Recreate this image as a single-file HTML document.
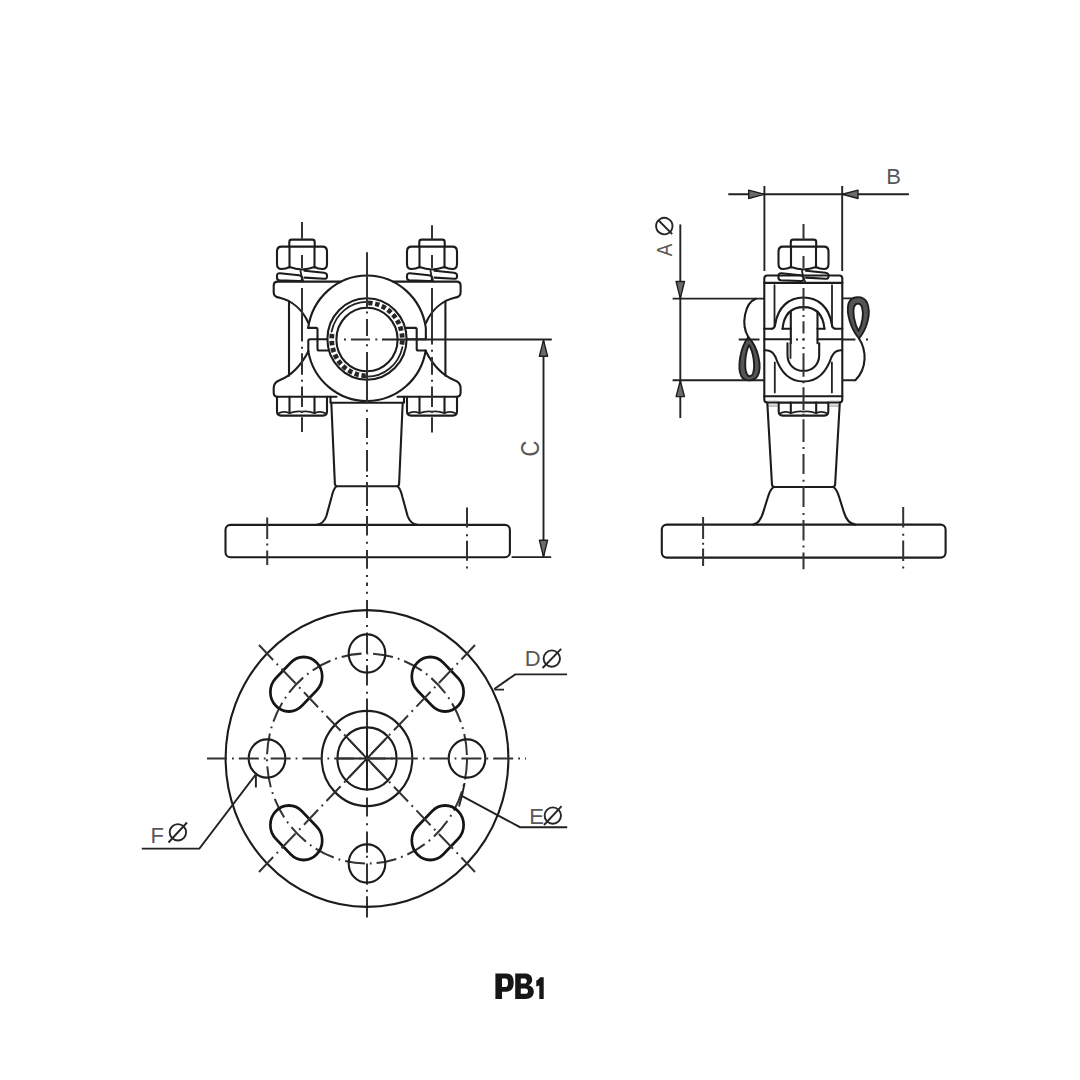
<!DOCTYPE html>
<html><head><meta charset="utf-8"><style>
html,body{margin:0;padding:0;background:#fff;width:1080px;height:1080px;overflow:hidden}
svg{display:block}

.s{fill:none;stroke:#1c1c1c;stroke-width:2.1;stroke-linejoin:round;stroke-linecap:round}
.s2{fill:none;stroke:#222;stroke-width:1.8;stroke-linecap:round}
.sb{fill:none;stroke:#151515;stroke-width:2.7}
.cl{fill:none;stroke:#333;stroke-width:2;stroke-linecap:butt}
.c{fill:none;stroke:#333;stroke-width:2;stroke-dasharray:20 5 1.8 5}
.lobe{fill:#555;fill-rule:evenodd;stroke:#1e1e1e;stroke-width:1.9;stroke-linejoin:round}
.h{fill:none;stroke:#222;stroke-width:4.2;stroke-dasharray:3.2 2.6}
.d{fill:none;stroke:#222;stroke-width:1.9}
.ar{fill:#6a6a6a;stroke:#1e1e1e;stroke-width:1.4;stroke-linejoin:round}
.dia{fill:none;stroke:#262626;stroke-width:1.9}
.t{font-family:"Liberation Sans",sans-serif;fill:#585858}
.pb{font-family:"Liberation Sans",sans-serif;font-weight:bold;fill:#161616;stroke:#161616;stroke-width:0.9}
</style></head><body>
<div id="wrap"><svg width="1080" height="1080" viewBox="0 0 1080 1080">
<path class="s" d="M289.3 246.6 V242 Q289.3 239.6 291.8 239.6 H312.2 Q314.7 239.6 314.7 242 V246.6"/>
<path class="s" d="M289.5 246.6 H281.5 Q277 246.6 277 251.5 V264 Q277 269 281.5 269 Q286 269 289.5 267 Q296 269.3 302 269.5 Q308 269.3 314.5 267 Q318 269 322.5 269 Q327 269 327 264 V251.5 Q327 246.6 322.5 246.6 Z"/>
<path class="s" d="M289.5 246.8 V267.5 M314.5 246.8 V267.5"/>
<path class="s" d="M280 273.2 L299 275.2 Q302 275.6 302 278 V279 Q302 281.2 299 281 L279.5 280.2 Q277 280 277 277.8 V275.8 Q277 273 280 273.2 Z"/>
<path class="s" d="M304.5 270.8 L324 272.8 Q327 273.2 327 275.6 V276.8 Q327 279 324 278.8 L304.5 277.6"/>
<path class="s2" d="M300.5 270.8 Q301 276 303.5 281.5"/>
<path class="s" d="M419.3 246.6 V242 Q419.3 239.6 421.8 239.6 H442.2 Q444.7 239.6 444.7 242 V246.6"/>
<path class="s" d="M419.5 246.6 H411.5 Q407 246.6 407 251.5 V264 Q407 269 411.5 269 Q416 269 419.5 267 Q426 269.3 432 269.5 Q438 269.3 444.5 267 Q448 269 452.5 269 Q457 269 457 264 V251.5 Q457 246.6 452.5 246.6 Z"/>
<path class="s" d="M419.5 246.8 V267.5 M444.5 246.8 V267.5"/>
<path class="s" d="M410 273.2 L429 275.2 Q432 275.6 432 278 V279 Q432 281.2 429 281 L409.5 280.2 Q407 280 407 277.8 V275.8 Q407 273 410 273.2 Z"/>
<path class="s" d="M434.5 270.8 L454 272.8 Q457 273.2 457 275.6 V276.8 Q457 279 454 278.8 L434.5 277.6"/>
<path class="s2" d="M430.5 270.8 Q431 276 433.5 281.5"/>
<path class="s" d="M277 396.7 V411.6 Q277 415.6 281 415.6 H323 Q327 415.6 327 411.6 V396.7"/>
<path class="s" d="M289.5 396.7 V413.1 M314.5 396.7 V413.1"/>
<path class="s2" d="M278 413.6 Q283 410.6 289.5 413.1 Q296 410.6 302 411.6 Q308 410.6 314.5 413.1 Q321 410.6 326 413.6"/>
<path class="s" d="M407 396.7 V411.6 Q407 415.6 411 415.6 H453 Q457 415.6 457 411.6 V396.7"/>
<path class="s" d="M419.5 396.7 V413.1 M444.5 396.7 V413.1"/>
<path class="s2" d="M408 413.6 Q413 410.6 419.5 413.1 Q426 410.6 432 411.6 Q438 410.6 444.5 413.1 Q451 410.6 456 413.6"/>
<path class="s" d="M341 281.6 H277.7 Q273.7 281.6 273.7 285.6 V292.4 Q273.7 296.6 279 297.6 C291.5 300.5 302.5 309.5 308.4 323"/>
<path class="s" d="M393 281.6 H456.6 Q460.6 281.6 460.6 285.6 V292.4 Q460.6 296.6 455.3 297.6 C442.8 300.5 431.8 309.5 425.9 323"/>
<path class="s" d="M308.15 327.9 A59.5 61.5 0 0 1 425.85 327.9 V339.2"/>
<path class="s" d="M308.15 327.9 H316 Q317.5 327.9 317.5 329.5 V349 Q317.5 350.5 319 350.5 H328.8"/>
<path class="s" d="M405.8 327.9 H415.2 Q416.7 327.9 416.7 329.5 V349 Q416.7 350.5 418.2 350.5 H425.6"/>
<path class="s" d="M327.3 339.2 H310 Q308.3 339.2 308.3 341 V351.4 M406.7 339.2 H425.85"/>
<path class="s" d="M308.32 351.4 A59.5 60 0 0 0 425.68 350.5"/>
<path class="s" d="M308.3 351.4 C302 363.5 292 375 280 380 Q273.7 382.2 273.7 388 V392.7 Q273.7 396.7 277.7 396.7 H336.5"/>
<path class="s" d="M425.7 351 C432 363.5 442 375 454 380 Q460.6 382.2 460.6 388 V392.7 Q460.6 396.7 456.6 396.7 H397.5"/>
<path class="s" d="M289 301.5 V375.8 M445.4 301.5 V375.8"/>
<ellipse class="s" cx="367" cy="339" rx="39.6" ry="40.8"/>
<ellipse class="s" cx="367" cy="339.5" rx="30.6" ry="31.8"/>
<path fill="none" stroke="#262626" stroke-width="4.8" stroke-dasharray="4.4 2.6" d="M368.23 302.82 A35.3 36.5 0 0 1 401.53 346.89 M365.77 375.78 A35.3 36.5 0 0 1 332.47 331.71"/>
<path class="s2" d="M331.59 331.52 A36.2 37.4 0 0 1 368.26 301.92 M402.41 347.08 A36.2 37.4 0 0 1 365.74 376.68"/>
<path class="s" d="M330.5 396.8 V402.8 H404 V396.8"/>
<path class="s" d="M331.3 402.8 L334.9 484.2 Q335.4 486.2 337.5 486.2 H396.5 Q398.6 486.2 399.1 484.2 L402.7 402.8"/>
<path class="s" d="M336 486.8 Q333.5 489 331.6 497 L326.4 516 Q323.5 524.5 315.6 525"/>
<path class="s" d="M398 486.8 Q400.5 489 402.4 497 L407.6 516 Q410.5 524.5 418.4 525"/>
<rect class="s" x="225.5" y="524.9" width="284.4" height="32.3" rx="5"/>
<path class="cl" d="M367 252.3 V307.7 M367 318.9 V336.1 M367 351.9 V403.4 M367 417.9 V438.1 M367 449.9 V471.4 M367 481.9 V506.1 M367 515.9 V535.4 M367 549.9 V568.7 M367 582.6 V586.1 M367 599.9 V618.1 M367 632.6 V653.4 M367 665.3 V685.4 M367 698.6 V790.2 M367 797.6 V816.6 M367 831.6 V852.7 M367 863.6 V884.7 M367 896.3 V917.4 M367 311.5 V313.5 M367 344.3 V346.3 M367 409.7 V411.7 M367 442.3 V444.3 M367 475.0 V477.0 M367 509.0 V511.0 M367 541.7 V543.7 M367 575.0 V577.0 M367 591.7 V593.7 M367 625.0 V627.0 M367 659.0 V661.0 M367 691.7 V693.7 M367 823.2 V825.2 M367 855.8 V857.8 M367 889.8 V891.8"/>
<path class="cl" d="M302 221.9 V238.7 M302 255.1 V267.9 M302 287.9 V341.6 M302 353.3 V374.7 M302 386.6 V406.9 M302 417.3 V432.1 M302 346.8 V348.8 M302 379.7 V381.7 M302 411.0 V413.0"/>
<path class="cl" d="M432 225.3 V239.4 M432 255.1 V267.9 M432 287.9 V344.4 M432 357.1 V374.7 M432 386.6 V406.9 M432 417.3 V432.4 M432 349.8 V351.8 M432 379.7 V381.7 M432 411.0 V413.0"/>
<path class="cl" d="M350.9 339.5 H370.0 M344.0 339.5 H346.0 M375.3 339.5 H377.3"/>
<path class="cl" d="M267.2 517.6 V539.1 M267.2 550.6 V565.1 M267.2 543.6 V545.6"/>
<path class="cl" d="M467 507.6 V527.6 M467 540.7 V560.7 M467 534.2 V536.2 M467 566.6 V568.6"/>
<path class="d" d="M382 339.5 H551.8 M511.6 557.1 H551.2 M543.5 341 V556"/>
<path class="ar" d="M543.5 340.2 L539.4 356.2 H547.6 Z M543.5 556.8 L539.4 540.2 H547.6 Z"/>
<text class="t" transform="translate(538.9 448.6) rotate(-90) scale(1 1.13)" text-anchor="middle" font-size="22">C</text>
<path class="s" d="M790.8 246.6 V242 Q790.8 239.6 793.3 239.6 H813.7 Q816.2 239.6 816.2 242 V246.6"/>
<path class="s" d="M791.0 246.6 H783.0 Q778.5 246.6 778.5 251.5 V264 Q778.5 269 783.0 269 Q787.5 269 791.0 267 Q797.5 269.3 803.5 269.5 Q809.5 269.3 816.0 267 Q819.5 269 824.0 269 Q828.5 269 828.5 264 V251.5 Q828.5 246.6 824.0 246.6 Z"/>
<path class="s" d="M791.0 246.8 V267.5 M816.0 246.8 V267.5"/>
<path class="s" d="M781.5 273.2 L800.5 275.2 Q803.5 275.6 803.5 278 V279 Q803.5 281.2 800.5 281 L781.0 280.2 Q778.5 280 778.5 277.8 V275.8 Q778.5 273 781.5 273.2 Z"/>
<path class="s" d="M806.0 270.8 L825.5 272.8 Q828.5 273.2 828.5 275.6 V276.8 Q828.5 279 825.5 278.8 L806.0 277.6"/>
<path class="s2" d="M802.0 270.8 Q802.5 276 805.0 281.5"/>
<path class="s" d="M764.3 282.9 V278.5 Q764.3 275.5 767.3 275.5 H839.3 Q842.3 275.5 842.3 278.5 V282.9 Z"/>
<path class="s" d="M764.3 282.9 V396.2 M842.3 282.9 V396.2"/>
<path class="s" d="M764.3 396.2 V399.6 Q764.3 402.6 767.3 402.6 H839.3 Q842.3 402.6 842.3 399.6 V396.2 Z"/>
<path class="s2" d="M774.5 285.2 V326.5 M832 285.2 V326.5 M774.8 362.5 V392.4 M831.9 362.5 V392.4"/>
<path class="s" d="M764.3 328.8 H771.5 M835.5 328.8 H842.3 M782.5 328.8 H790.8 M817.5 328.8 H824.5 M764.3 339.3 H790.8 M817.5 339.3 H842.3"/>
<path class="s" d="M771.5 328.8 Q774.5 328.8 775.3 324 C778 307 789 297.5 803.5 297.5 C818 297.5 829 307 831.7 324 Q832.5 328.8 835.5 328.8"/>
<path class="s" d="M782.5 328.8 C784 314 792 307.1 803.5 307.1 C815 307.1 823 314 824.5 328.8"/>
<path class="s" d="M790.8 311.5 V343.3 M817.5 311.5 V343.3"/>
<path class="s" d="M787.5 343.3 V355 C787.5 365 795 370.8 803.5 370.8 C812 370.8 819.2 365 819.2 355 V343.3"/>
<path class="s2" d="M790.5 343.3 V358"/>
<path class="s" d="M764.6 350.3 Q772 349.5 775.5 357 C780.5 372 790 381.5 803.5 381.5 C817 381.5 826.5 372 831.5 357 Q835 349.5 842 350.3"/>
<path fill="none" stroke="#8a8a8a" stroke-width="1.1" d="M767.5 401.2 H777.5 M767.8 403.6 H777.5 M768 406 H777.5 M829.5 401.2 H839.5 M829.5 403.6 H839.3 M829.5 406 H839"/>
<path class="s" d="M778.7 402.6 V411.6 Q778.7 415.6 782.7 415.6 H824.3 Q828.3 415.6 828.3 411.6 V402.6"/>
<path class="s" d="M790.8 402.6 V413.1 M816.2 402.6 V413.1"/>
<path class="s2" d="M779.7 413.6 Q784.7 410.6 790.8 413.1 Q797.5 410.6 803.5 411.6 Q809.5 410.6 816.2 413.1 Q822.3 410.6 827.3 413.6"/>
<path class="s" d="M767.3 402.6 L772 484.8 Q772.4 487 774.5 487 H832.6 Q834.7 487 835.1 484.8 L839.8 402.6"/>
<path class="s" d="M773 487.5 Q770 490 767.8 497.5 L763.4 511.6 Q760 523.5 753.3 524.6"/>
<path class="s" d="M834.1 487.5 Q837.1 490 839.3 497.5 L843.7 511.6 Q847.1 523.5 855.2 524.6"/>
<rect class="s" x="661.8" y="524.6" width="283.8" height="33" rx="5"/>
<path class="d" d="M672.6 298.6 H764.3 M672.6 380.3 H764.3 M842.3 298.4 H856.4 M842.3 380.2 H855"/>
<path class="s" d="M755.8 298.8 C745 303 740.5 324 748.3 337"/>
<path class="lobe" d="M748.3 337 C740 348 737 368 741.5 376.5 C745 382 754 381.5 757.5 376 C762.5 367 758 347 748.3 337 Z M749 345 C745 353 744 368 746.8 374 C748.5 377 751.5 377 753 373.5 C755.5 366 753.5 352 749 345 Z"/>
<path class="lobe" d="M859 338.5 C851 329 846 313.5 848.5 303.5 C851 295.5 863 295 867 302.5 C871.5 313 867 329 859 338.5 Z M858.5 331 C854.5 324 852.5 313 854 307 C855.5 302.5 860.5 302.5 862 307 C864 314 862.5 324 858.5 331 Z"/>
<path class="s" d="M859 338.5 C866.5 350 867.5 368 855.4 380.2"/>
<path class="cl" d="M803.5 223.9 V238.7 M803.5 255.9 V267.9 M803.5 287.9 V310.7 M803.5 321.3 V333.4 M803.5 353.3 V376.7 M803.5 387.3 V410.1 M803.5 419.3 V442.1 M803.5 453.9 V474.1 M803.5 485.9 V507.1 M803.5 519.9 V540.5 M803.5 552.6 V569.3 M803.5 315.0 V317.0 M803.5 338.3 V340.3 M803.5 347.0 V349.0 M803.5 381.2 V383.2 M803.5 413.7 V415.7 M803.5 447.0 V449.0 M803.5 479.7 V481.7 M803.5 512.9 V514.9 M803.5 545.5 V547.5"/>
<path class="d" d="M738.7 339.5 H759.5 M842.6 339.5 H855.4"/>
<path class="d" d="M866 339.5 H868 M796 339.5 H798 M802.5 339.5 H804.5"/>
<path class="cl" d="M703.1 517.1 V538.9 M703.1 548.6 V565.9 M703.1 542.8 V544.8"/>
<path class="cl" d="M903.2 507.1 V527.4 M903.2 540.6 V560.9 M903.2 533.8 V535.8 M903.2 566.5 V568.5"/>
<path class="d" d="M728.3 194.3 H908.9 M764.4 186 V271 M842.2 186 V271"/>
<path class="ar" d="M764.2 194.3 L748.7 190.1 V198.5 Z M842.4 194.3 L858 190.1 V198.5 Z"/>
<text class="t" x="886.3" y="184.4" font-size="22">B</text>
<path class="d" d="M680.3 224.4 V418"/>
<path class="ar" d="M680.3 298.3 L676.1 281.5 H684.5 Z M680.3 380.8 L676.1 396.6 H684.5 Z"/>
<text class="t" transform="translate(672.3 256.3) rotate(-90) scale(0.86 1)" font-size="22">A</text>
<path class="dia" d="M672.5 226.1 A8.2 8.2 0 1 1 672.5 226.09 M658.2 220 L672.2 234.2"/>
<g transform="translate(367 758.5) scale(1 1.05)">
<circle class="s" r="141.4"/>
<circle class="c" r="100"/>
<circle class="s" cx="0" cy="-100" r="18.3"/>
<circle class="s" cx="0" cy="100" r="18.3"/>
<circle class="s" cx="-100" cy="0" r="18.3"/>
<circle class="s" cx="100" cy="0" r="18.3"/>
<rect class="sb" transform="rotate(45) translate(100 0)" x="-18.5" y="-29" width="37" height="58" rx="18.5"/>
<rect class="sb" transform="rotate(135) translate(100 0)" x="-18.5" y="-29" width="37" height="58" rx="18.5"/>
<rect class="sb" transform="rotate(225) translate(100 0)" x="-18.5" y="-29" width="37" height="58" rx="18.5"/>
<rect class="sb" transform="rotate(315) translate(100 0)" x="-18.5" y="-29" width="37" height="58" rx="18.5"/>
<circle class="s" r="45.3"/>
<circle class="s" r="29.6"/>
<path class="s2" d="M-29.6 0 H29.6 M0 -29.6 V29.6 M-20.9 -20.9 L20.9 20.9 M-20.9 20.9 L20.9 -20.9"/>
<path class="c" d="M-160 0 H159 M-108 -108 L108 108 M-108 108 L108 -108"/>
</g>
<path class="d" d="M494.3 689 L515.2 674.4 H567 M462.2 796.1 L520 827.2 H567.2 M255.7 774.6 L199.4 848.6 H141.8"/>
<path class="d" d="M494.3 689.6 H504 M255.9 775 V787.5"/>
<path class="d" d="M464.6 783 Q462.5 795 459 806.5"/>
<text class="t" x="524.8" y="665.6" font-size="22">D</text>
<circle class="dia" cx="551.8" cy="658.6" r="8.2"/><path class="dia" d="M542.6 668 L561.2 648.8"/>
<text class="t" x="529.2" y="823.8" font-size="22">E</text>
<circle class="dia" cx="552.8" cy="815.6" r="8.2"/><path class="dia" d="M544 825 L561.6 806.2"/>
<text class="t" x="150.6" y="842.8" font-size="22">F</text>
<circle class="dia" cx="177.9" cy="832.3" r="8.2"/><path class="dia" d="M168.5 842.5 L187 822.5"/>
<path fill="#161616" fill-rule="evenodd" d="M495.4 999 V973.4 H506 C511 973.4 513.7 976.5 513.7 982.5 C513.7 988.5 511 991.7 506 991.7 H502 V999 Z M502 978.4 V987 H505.6 C507.3 987 508 985.5 508 982.7 C508 979.9 507.3 978.4 505.6 978.4 Z"/>
<path fill="#161616" fill-rule="evenodd" d="M515.2 999 V973.4 H525 C529.6 973.4 532.2 975.8 532.2 979.8 C532.2 982.8 530.6 984.6 528.5 985.2 C531.8 985.8 533.8 988.2 533.8 991.6 C533.8 996.4 530.6 999 525.5 999 Z M520.8 978.4 V983.5 H524.6 C526 983.5 526.8 982.6 526.8 980.9 C526.8 979.3 526 978.4 524.6 978.4 Z M520.8 988.6 V993.8 H525.3 C527 993.8 528 992.9 528 991.2 C528 989.5 527 988.6 525.3 988.6 Z"/>
<path fill="#161616" d="M539.3 999 V985.5 L536.3 986.4 V980.6 C538.2 979.8 539.5 978.4 540 977.2 H543.7 V999 Z"/>
</svg></div>
</body></html>
